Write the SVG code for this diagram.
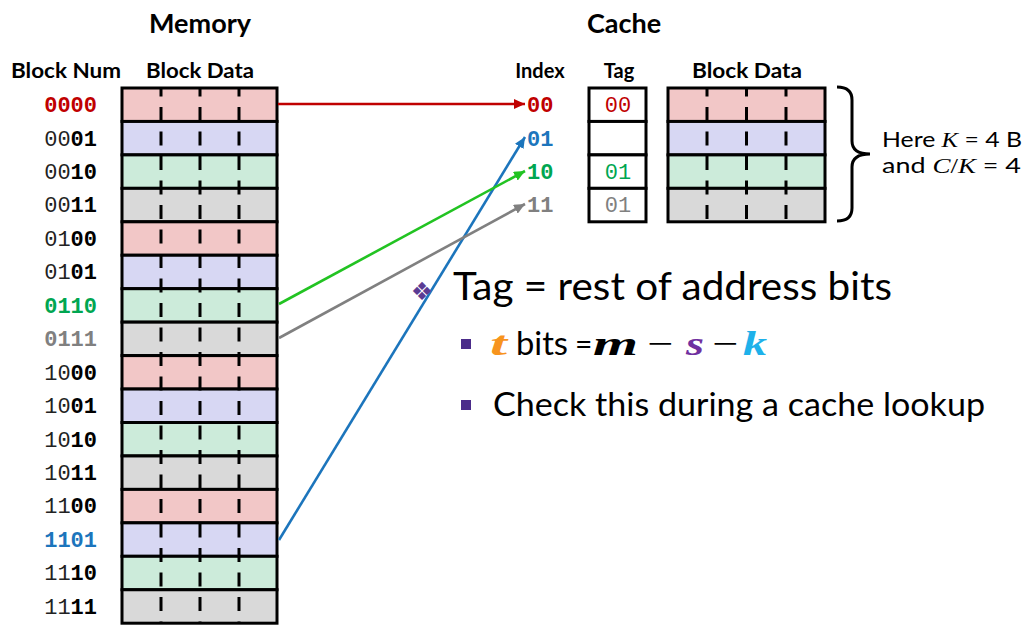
<svg xmlns="http://www.w3.org/2000/svg" width="1035" height="631" viewBox="0 0 1035 631">
<style>
.hd{font-family:Lato,"Open Sans",sans-serif;font-weight:bold;fill:#000}
.title{font-size:27px}
.sub{font-size:20px}
.mono{font-family:"Liberation Mono","DejaVu Sans Mono",monospace;font-size:22px}
.lt{font-weight:normal;fill:#222}
.bd{font-weight:bold;fill:#000}
.row{stroke:#000;stroke-width:3}
.pk{fill:#F2C7C7}.lv{fill:#D7D7F3}.mn{fill:#CCEBDA}.gy{fill:#D9D9D9}
.dash{stroke:#000;stroke-width:3;stroke-dasharray:14 10.5;stroke-dashoffset:5.5}
.sans{font-family:Lato,"Open Sans",sans-serif;fill:#000}
.math{font-family:"Liberation Serif","DejaVu Serif",serif;font-style:italic;font-weight:bold;font-size:34px}
.op{font-family:"Liberation Serif","DejaVu Serif",serif;font-size:34px;fill:#000}
.conn{stroke-width:2.6;fill:none}
</style>
<defs>
<marker id="aR" markerUnits="userSpaceOnUse" markerWidth="12" markerHeight="10" refX="11" refY="5" orient="auto"><path d="M0,0 L11,5 L0,10 z" fill="#C00000"/></marker>
<marker id="aB" markerUnits="userSpaceOnUse" markerWidth="12" markerHeight="10" refX="11" refY="5" orient="auto"><path d="M0,0 L11,5 L0,10 z" fill="#1C75BC"/></marker>
<marker id="aG" markerUnits="userSpaceOnUse" markerWidth="12" markerHeight="10" refX="11" refY="5" orient="auto"><path d="M0,0 L11,5 L0,10 z" fill="#22C322"/></marker>
<marker id="aY" markerUnits="userSpaceOnUse" markerWidth="12" markerHeight="10" refX="11" refY="5" orient="auto"><path d="M0,0 L11,5 L0,10 z" fill="#808080"/></marker>
</defs>
<rect width="1035" height="631" fill="#fff"/>

<g id="headers">
<text class="hd title" x="200" y="33" text-anchor="middle">Memory</text>
<text class="hd title" x="624" y="33" text-anchor="middle">Cache</text>
<text class="hd sub" x="66" y="78" text-anchor="middle" textLength="110" lengthAdjust="spacingAndGlyphs">Block Num</text>
<text class="hd sub" x="200" y="78" text-anchor="middle" textLength="108" lengthAdjust="spacingAndGlyphs">Block Data</text>
<text class="hd sub" x="540" y="78" text-anchor="middle">Index</text>
<text class="hd sub" x="619" y="78" text-anchor="middle">Tag</text>
<text class="hd sub" x="747" y="78" text-anchor="middle" textLength="110" lengthAdjust="spacingAndGlyphs">Block Data</text>
</g>

<g id="memory">
<rect class="row pk" x="122" y="88" width="155" height="33.45"/>
<rect class="row lv" x="122" y="121.45" width="155" height="33.45"/>
<rect class="row mn" x="122" y="154.9" width="155" height="33.45"/>
<rect class="row gy" x="122" y="188.35" width="155" height="33.45"/>
<rect class="row pk" x="122" y="221.8" width="155" height="33.45"/>
<rect class="row lv" x="122" y="255.25" width="155" height="33.45"/>
<rect class="row mn" x="122" y="288.7" width="155" height="33.45"/>
<rect class="row gy" x="122" y="322.15" width="155" height="33.45"/>
<rect class="row pk" x="122" y="355.6" width="155" height="33.45"/>
<rect class="row lv" x="122" y="389.05" width="155" height="33.45"/>
<rect class="row mn" x="122" y="422.5" width="155" height="33.45"/>
<rect class="row gy" x="122" y="455.95" width="155" height="33.45"/>
<rect class="row pk" x="122" y="489.4" width="155" height="33.45"/>
<rect class="row lv" x="122" y="522.85" width="155" height="33.45"/>
<rect class="row mn" x="122" y="556.3" width="155" height="33.45"/>
<rect class="row gy" x="122" y="589.75" width="155" height="33.45"/>
<line class="dash" x1="161" y1="88" x2="161" y2="623"/>
<line class="dash" x1="200" y1="88" x2="200" y2="623"/>
<line class="dash" x1="239" y1="88" x2="239" y2="623"/>
</g>

<g id="blocknums" class="mono" text-anchor="end">
<text x="97" y="112" class="bd" style="fill:#C00000">0000</text>
<text x="97" y="145.5"><tspan class="lt">00</tspan><tspan class="bd">01</tspan></text>
<text x="97" y="179"><tspan class="lt">00</tspan><tspan class="bd">10</tspan></text>
<text x="97" y="212.4"><tspan class="lt">00</tspan><tspan class="bd">11</tspan></text>
<text x="97" y="245.8"><tspan class="lt">01</tspan><tspan class="bd">00</tspan></text>
<text x="97" y="279.3"><tspan class="lt">01</tspan><tspan class="bd">01</tspan></text>
<text x="97" y="312.7" class="bd" style="fill:#00A651">0110</text>
<text x="97" y="346.2" class="bd" style="fill:#808080">0111</text>
<text x="97" y="379.6"><tspan class="lt">10</tspan><tspan class="bd">00</tspan></text>
<text x="97" y="413"><tspan class="lt">10</tspan><tspan class="bd">01</tspan></text>
<text x="97" y="446.5"><tspan class="lt">10</tspan><tspan class="bd">10</tspan></text>
<text x="97" y="480"><tspan class="lt">10</tspan><tspan class="bd">11</tspan></text>
<text x="97" y="513.4"><tspan class="lt">11</tspan><tspan class="bd">00</tspan></text>
<text x="97" y="546.8" class="bd" style="fill:#1C75BC">1101</text>
<text x="97" y="580.3"><tspan class="lt">11</tspan><tspan class="bd">10</tspan></text>
<text x="97" y="613.7"><tspan class="lt">11</tspan><tspan class="bd">11</tspan></text>
</g>

<g id="cache-index" class="mono" font-weight="bold">
<text x="527" y="112" fill="#C00000">00</text>
<text x="527" y="145.5" fill="#1C75BC">01</text>
<text x="527" y="179" fill="#00A651">10</text>
<text x="527" y="212.4" fill="#808080">11</text>
</g>

<g id="cache-tag">
<rect class="row" fill="#fff" x="589" y="88" width="57" height="33.45"/>
<rect class="row" fill="#fff" x="589" y="121.45" width="57" height="33.45"/>
<rect class="row" fill="#fff" x="589" y="154.9" width="57" height="33.45"/>
<rect class="row" fill="#fff" x="589" y="188.35" width="57" height="33.45"/>
<g class="mono" text-anchor="middle">
<text x="618" y="112" fill="#C00000">00</text>
<text x="618" y="179" fill="#00A651">01</text>
<text x="618" y="212.4" fill="#808080">01</text>
</g>
</g>

<g id="cache-data">
<rect class="row pk" x="668" y="88" width="157" height="33.45"/>
<rect class="row lv" x="668" y="121.45" width="157" height="33.45"/>
<rect class="row mn" x="668" y="154.9" width="157" height="33.45"/>
<rect class="row gy" x="668" y="188.35" width="157" height="33.45"/>
<line class="dash" x1="707" y1="88" x2="707" y2="222"/>
<line class="dash" x1="746.5" y1="88" x2="746.5" y2="222"/>
<line class="dash" x1="786" y1="88" x2="786" y2="222"/>
</g>

<g id="brace">
<path d="M837,87 Q852,87 852,100 L852,141 Q852,154 870,154 Q852,154 852,167 L852,208 Q852,221 837,221" fill="none" stroke="#000" stroke-width="3"/>
<text class="sans" x="882" y="147" font-size="22" textLength="140" lengthAdjust="spacingAndGlyphs">Here <tspan font-family="Liberation Serif" font-style="italic">K</tspan> = 4 B</text>
<text class="sans" x="882" y="173" font-size="22" textLength="139" lengthAdjust="spacingAndGlyphs">and <tspan font-family="Liberation Serif" font-style="italic">C</tspan><tspan font-family="Liberation Serif">/</tspan><tspan font-family="Liberation Serif" font-style="italic">K</tspan> = 4</text>
</g>

<g id="connectors">
<line class="conn" x1="278" y1="104" x2="525" y2="104" stroke="#C00000" marker-end="url(#aR)"/>
<line class="conn" x1="279" y1="540" x2="525" y2="137" stroke="#1C75BC" marker-end="url(#aB)"/>
<line class="conn" x1="279" y1="304" x2="525" y2="171" stroke="#22C322" marker-end="url(#aG)"/>
<line class="conn" x1="279" y1="338" x2="525" y2="204" stroke="#808080" marker-end="url(#aY)"/>
</g>

<g id="notes">
<text x="422" y="300" font-family="DejaVu Sans,sans-serif" font-size="25" fill="#5B3B94" text-anchor="middle">❖</text>
<text class="sans" x="453" y="300" font-size="38" textLength="439" lengthAdjust="spacingAndGlyphs">Tag = rest of address bits</text>
<rect x="461" y="339" width="10" height="10" fill="#4B2C8A"/>
<text class="math" x="490" y="355" fill="#F7941D" textLength="17" lengthAdjust="spacingAndGlyphs">t</text>
<text class="sans" x="516" y="355" font-size="33" textLength="52" lengthAdjust="spacingAndGlyphs">bits</text>
<text class="sans" x="575" y="355" font-size="30">=</text>
<text class="math" x="593" y="355" fill="#000" textLength="45" lengthAdjust="spacingAndGlyphs">m</text>
<text class="op" x="647" y="355" textLength="26" lengthAdjust="spacingAndGlyphs">−</text>
<text class="math" x="686" y="355" fill="#7030A0" textLength="18" lengthAdjust="spacingAndGlyphs">s</text>
<text class="op" x="712" y="355" textLength="26" lengthAdjust="spacingAndGlyphs">−</text>
<text class="math" x="743" y="355" fill="#1EB1EA" textLength="24" lengthAdjust="spacingAndGlyphs">k</text>
<rect x="461" y="400" width="10" height="10" fill="#4B2C8A"/>
<text class="sans" x="493" y="416" font-size="33" textLength="492" lengthAdjust="spacingAndGlyphs">Check this during a cache lookup</text>
</g>
</svg>
